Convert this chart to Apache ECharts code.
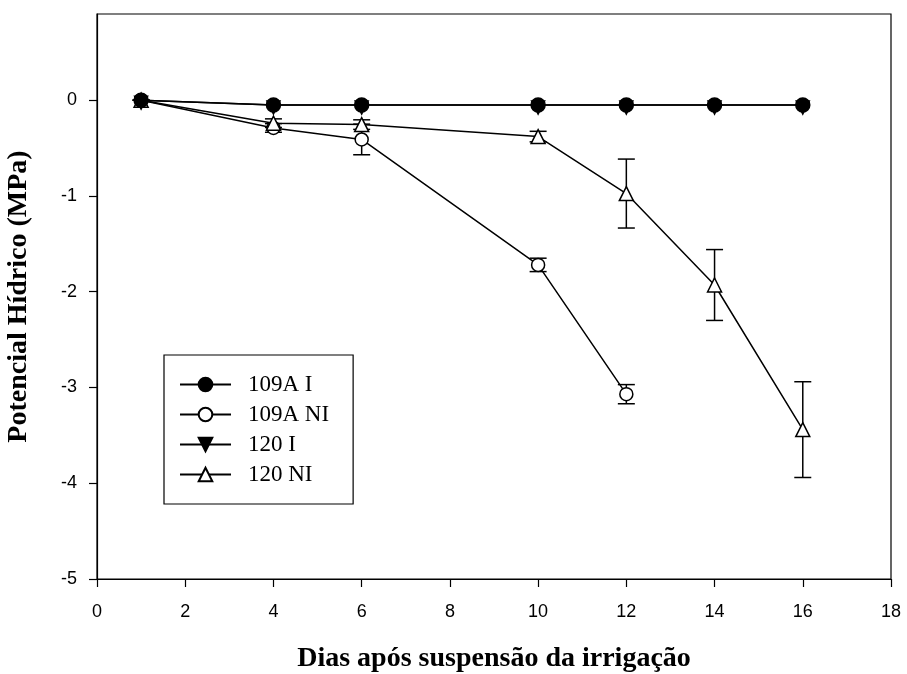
<!DOCTYPE html>
<html>
<head>
<meta charset="utf-8">
<script src="https://cdn.jsdelivr.net/npm/echarts@6/dist/echarts.min.js"></script>
<style>
html,body{margin:0;padding:0;background:#fff;}
#c{width:907px;height:674px;}
</style>
</head>
<body>
<div id="c"></div>
<script>
// ---- data ----
var days = [1, 4, 6, 10, 12, 14, 16];
var days109ANI = [1, 4, 6, 10, 12];
var v109AI = [0, -0.05, -0.05, -0.05, -0.05, -0.05, -0.05];
var v120I = [0, -0.05, -0.05, -0.05, -0.05, -0.05, -0.05];
var v109ANI = [0, -0.29, -0.41, -1.72, -3.07];
var e109ANI = [0, 0.045, 0.16, 0.07, 0.10];
var v120NI = [0, -0.24, -0.255, -0.38, -0.975, -1.93, -3.44];
var e120NI = [0, 0.045, 0.05, 0.055, 0.36, 0.37, 0.5];
var xTicks = [0, 2, 4, 6, 8, 10, 12, 14, 16, 18];
var yTicks = [-5, -4, -3, -2, -1, 0];
var names = ['109A I', '109A NI', '120 I', '120 NI'];

function pairs(xs, ys) { return xs.map(function (x, i) { return [x, ys[i]]; }); }
function errData(xs, ys, es) { return xs.map(function (x, i) { return [x, ys[i] - es[i], ys[i] + es[i]]; }); }

function errRender(params, api) {
  var x = api.value(0);
  var lo = api.coord([x, api.value(1)]);
  var hi = api.coord([x, api.value(2)]);
  var w = 8.5;
  var st = { stroke: '#000', lineWidth: 1.5, fill: null };
  return {
    type: 'group',
    children: [
      { type: 'line', shape: { x1: lo[0], y1: lo[1], x2: hi[0], y2: hi[1] }, style: st },
      { type: 'line', shape: { x1: lo[0] - w, y1: lo[1], x2: lo[0] + w, y2: lo[1] }, style: st },
      { type: 'line', shape: { x1: hi[0] - w, y1: hi[1], x2: hi[0] + w, y2: hi[1] }, style: st }
    ]
  };
}

var serifFont = '"Liberation Serif", "Times New Roman", serif';
var sansFont = '"Liberation Sans", Arial, sans-serif';

function lineSeries(name, data, symbol, filled, size, z, offset) {
  return {
    name: name, type: 'line', data: data, symbol: symbol, symbolSize: size,
    symbolOffset: offset || [0, 0],
    showAllSymbol: true, z: z,
    lineStyle: { color: '#000', width: 1.5 },
    itemStyle: { color: filled ? '#000' : '#fff', borderColor: '#000', borderWidth: 1.5 },
    emphasis: { disabled: true }, animation: false
  };
}

var chart = echarts.init(document.getElementById('c'));
chart.setOption({
  animation: false,
  backgroundColor: '#fff',
  grid: { left: 97, top: 14, right: 16, bottom: 95, show: true, borderColor: '#000', borderWidth: 1.2, containLabel: false, outerBoundsMode: 'none' },
  xAxis: {
    type: 'value', min: 0, max: 18, interval: 2,
    name: 'Dias após suspensão da irrigação', nameLocation: 'middle', nameGap: 66,
    nameTextStyle: { fontFamily: serifFont, fontWeight: 'bold', fontSize: 28, color: '#000' },
    axisLine: { onZero: false, lineStyle: { color: '#000', width: 1.2 } },
    axisTick: { length: 8, lineStyle: { color: '#000', width: 1.2 }, customValues: xTicks },
    axisLabel: { margin: 24, fontFamily: sansFont, fontSize: 18, color: '#000', customValues: xTicks },
    splitLine: { show: false }
  },
  yAxis: {
    type: 'value', min: -5, max: 0.9, interval: 1,
    name: 'Potencial Hídrico (MPa)', nameLocation: 'middle', nameGap: 64, nameRotate: 90,
    nameTextStyle: { fontFamily: serifFont, fontWeight: 'bold', fontSize: 28, color: '#000' },
    axisLine: { show: true, onZero: false, lineStyle: { color: '#000', width: 1.2 } },
    axisTick: { show: true, length: 8, lineStyle: { color: '#000', width: 1.2 }, customValues: yTicks },
    axisLabel: { margin: 20, fontFamily: sansFont, fontSize: 18, color: '#000', customValues: yTicks },
    splitLine: { show: false }
  },
  legend: {
    data: names, orient: 'vertical', left: 164, top: 355,
    padding: [18, 24, 18, 15], itemGap: 7, itemWidth: 51, itemHeight: 17,
    borderColor: '#000', borderWidth: 1.2, backgroundColor: '#fff',
    textStyle: { fontFamily: serifFont, fontSize: 23, color: '#000', lineHeight: 22, padding: [0, 0, 0, 12] },
    selectedMode: false
  },
  series: [
    lineSeries('109A I', pairs(days, v109AI), 'circle', true, 14, 7),
    lineSeries('109A NI', pairs(days109ANI, v109ANI), 'circle', false, 13, 5),
    lineSeries('120 I', pairs(days, v120I), 'path://M0,0 L10,0 L5,9 Z', true, 13, 6, [0, 2.5]),
    lineSeries('120 NI', pairs(days, v120NI), 'triangle', false, 14, 5),
    { type: 'custom', renderItem: errRender, data: errData(days109ANI, v109ANI, e109ANI), z: 3, silent: true, encode: { x: 0, y: [1, 2] } },
    { type: 'custom', renderItem: errRender, data: errData(days, v120NI, e120NI), z: 3, silent: true, encode: { x: 0, y: [1, 2] } }
  ]
});
</script>
</body>
</html>
